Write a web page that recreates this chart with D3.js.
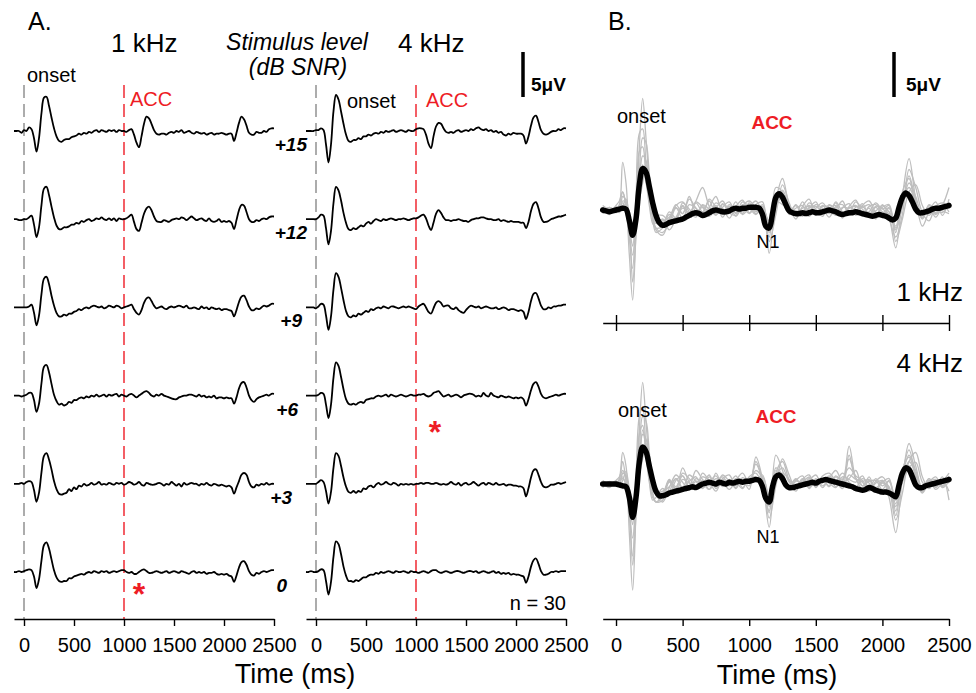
<!DOCTYPE html>
<html>
<head>
<script src="https://d3js.org/d3.v7.min.js"></script>
<style>
  body { margin: 0; background: #fff; }
  svg text { font-family: "Liberation Sans", Arial, sans-serif; }
</style>
</head>
<body>
<script>
// sampling grids (ms)
var tA = d3.range(-100, 2501, 25);
var tGray = [-100, -50].concat(d3.range(0, 301, 25), d3.range(350, 2501, 50));

var levels = ["+15", "+12", "+9", "+6", "+3", "0"];
var tickVals = [0, 500, 1000, 1500, 2000, 2500];

// Panel A, 1 kHz, grand averages (uV) per SNR
var a1k15 = [0,0,0,-0.2,0.1,0,0.4,0.2,-0.8,-2.3,-0.8,2.0,3.7,3.8,2.8,1.5,0.3,-0.6,-1.1,-1.2,-1.0,
  -0.9,-0.9,-0.7,-0.6,-0.5,-0.3,-0.4,-0.2,-0.3,-0.1,-0.2,0,0.1,-0.1,0.1,0,-0.1,0.1,0,0.1,-0.1,0.1,0,0,
  -0.1,0.1,0.2,-0.4,-1.3,-1.8,-0.6,0.8,1.6,1.4,0.8,0.1,-0.3,-0.4,-0.3,-0.3,-0.4,-0.2,-0.1,-0.2,
  0,-0.1,0.1,-0.2,-0.1,0,-0.2,-0.3,-0.1,-0.2,-0.3,-0.2,-0.4,-0.3,-0.2,-0.4,-0.3,-0.3,-0.2,-0.3,
  -0.4,-0.3,-0.3,-1.1,-0.2,0.9,1.6,1.3,0.6,-0.2,-0.4,-0.4,-0.1,-0.2,-0.2,0,-0.1,0.2,0.3,0.3];
var a1k12 = [0,0,-0.1,-0.1,0,0,0.2,0.4,-0.6,-2.0,-0.9,1.6,3.4,3.6,2.7,1.4,0.2,-0.7,-1.1,-1.1,-0.9,
  -0.9,-0.8,-0.6,-0.6,-0.4,-0.5,-0.2,-0.3,-0.1,0,-0.2,-0.1,0.1,0,0.2,0,-0.1,0.1,-0.1,0.1,-0.2,0.1,0,0,
  0.1,0.3,0.5,-0.3,-1.1,-1.3,-0.4,0.6,1.2,1.4,1.0,0.3,-0.2,-0.3,-0.3,-0.1,-0.2,-0.3,-0.1,0,
  0.1,0,0.2,0.1,-0.1,0.1,0.3,0.1,-0.1,0,0.1,-0.1,-0.2,0.1,-0.2,-0.3,-0.2,0,-0.3,-0.2,
  -0.3,-0.2,-0.4,-1.1,-0.1,1.0,1.6,1.5,0.8,0,-0.3,-0.3,-0.1,-0.2,0,0.1,0,0.2,0.3,0.3];
var a1k9 = [0,0,0,0,0,0,0.1,0.3,-0.6,-2.0,-0.9,1.5,3.2,3.4,2.6,1.3,0.2,-0.6,-1.0,-1.0,-0.8,
  -0.9,-0.7,-0.7,-0.5,-0.4,-0.2,-0.3,-0.1,0,-0.1,0.1,0.2,0.1,0,0.1,-0.1,0,0.2,0.1,0,0.2,0.1,-0.1,0,
  0.1,0.2,0.3,-0.2,-0.6,-0.8,-0.3,0.5,1.0,1.1,0.7,0.2,-0.1,0,0.1,-0.1,-0.2,0,0.1,0,
  0.1,0.2,0.1,0,0.2,-0.1,-0.1,0,-0.1,-0.2,0.1,-0.1,0,-0.2,0,-0.1,-0.2,-0.1,-0.3,-0.2,
  -0.2,-0.3,-0.4,-1.0,-0.3,0.6,1.2,1.3,0.8,0.1,-0.3,-0.3,-0.1,-0.2,0,0.2,0.1,0.2,0.4,0.4];
var a1k6 = [0,0,0,-0.1,0,0.1,0.3,0.3,-0.5,-1.8,-0.9,1.4,3.2,3.4,2.6,1.3,0.1,-0.6,-1.0,-0.9,-1.1,
  -1.0,-0.7,-0.8,-0.5,-0.5,-0.3,-0.2,-0.3,-0.1,-0.2,0,-0.1,0.1,-0.1,0,0.1,-0.1,0.1,0,0.1,0.2,-0.1,0.1,0,
  -0.1,0.1,0.2,0,-0.2,0,0.2,0.4,0.5,0.3,0,-0.1,0.1,0,0.2,0,-0.1,-0.2,-0.3,-0.4,
  -0.4,-0.2,-0.1,0,0,0.1,0.1,0,-0.1,0.1,-0.1,0,-0.2,-0.1,-0.2,0,-0.3,-0.2,-0.2,-0.3,
  -0.2,-0.3,-0.3,-0.9,-0.2,0.8,1.4,1.5,0.9,0,-0.5,-0.7,-0.4,-0.2,-0.1,0,0.1,0,0.2,0.2];
var a1k3 = [0,0,0,0.1,0,0.2,0.3,0.2,-0.7,-2.0,-1.0,1.3,3.1,3.4,2.7,1.6,0.3,-0.6,-1.1,-1.2,-1.1,
  -1.0,-0.6,-0.8,-0.4,-0.6,-0.2,-0.3,0,-0.2,-0.1,0.1,-0.1,0,0.2,-0.1,0,-0.1,0.1,0,-0.1,0.1,0,0.1,-0.1,
  0,0.2,0.1,-0.1,0,0.2,-0.1,-0.2,0.1,0,-0.1,-0.1,0,0.1,0,-0.2,0,-0.1,0.2,0,
  -0.2,0,-0.3,0.1,-0.1,0,0.1,0,0,-0.2,0,-0.1,0.1,-0.1,-0.2,0,-0.1,-0.2,-0.1,-0.2,
  -0.3,-0.2,-0.4,-1.1,-0.4,0.3,1.0,1.2,1.0,0.2,-0.3,-0.4,-0.1,-0.2,0,-0.1,0.1,-0.1,0,0];
var a1k0 = [0,0,0.1,0,0.1,0.2,0.3,0.2,-0.5,-1.8,-0.8,1.3,3.0,3.3,2.6,1.4,0.2,-0.6,-1.0,-1.1,-1.0,
  -1.0,-0.7,-0.7,-0.5,-0.4,-0.3,-0.2,-0.3,-0.1,0,-0.1,0.1,0,-0.1,0.1,0,0.1,-0.1,0,0.1,0,0.1,0.2,0.2,
  0,-0.1,0,-0.2,-0.2,0,0.2,0.3,0.1,-0.1,-0.1,0,0.1,0,-0.1,0,0.1,-0.1,0,0.1,
  0,-0.1,0.1,0,-0.1,-0.2,0,0.1,-0.1,0,-0.1,0,-0.2,-0.1,-0.1,0,-0.2,-0.3,-0.2,-0.3,
  -0.2,-0.4,-0.5,-1.1,-0.4,0.5,1.1,1.2,0.8,0.1,-0.3,-0.4,-0.1,-0.2,0,0.1,0,0.1,0.2,0.2];

// Panel A, 4 kHz
var a4k15 = [0,0,0,0,0.1,0.1,0.3,0.1,-1.5,-3.5,-1.5,2.2,4.0,3.5,2.2,0.8,-0.4,-1.1,-1.2,-1.0,-1.0,
  -0.8,-0.9,-0.6,-0.6,-0.4,-0.5,-0.3,-0.2,-0.3,-0.1,-0.2,0,-0.1,0,0.1,-0.1,0,0.1,0,-0.1,0.1,0,0,0.2,
  0.3,0.3,0.2,-0.4,-1.4,-1.9,-0.6,0.5,0.9,0.8,0.3,-0.1,-0.2,-0.1,-0.2,0,0.1,-0.1,0,0.1,
  0,0.2,0.1,0.3,0.4,0.2,0.1,0.2,0,0.1,-0.1,0,-0.2,-0.1,-0.4,-0.5,-0.3,-0.4,-0.2,-0.3,
  -0.3,-0.3,-0.5,-1.4,-0.6,0.6,1.5,1.7,1.0,0.1,-0.3,-0.4,-0.3,-0.1,0,0,0.2,0.1,0.3,0.3];
var a4k12 = [0,0,0,0,0,0.2,0.5,0.4,-1.0,-2.8,-1.3,1.8,3.6,3.2,2.1,0.7,-0.4,-1.1,-1.2,-1.0,-1.1,
  -0.9,-0.7,-0.8,-0.5,-0.3,-0.5,-0.2,0,-0.1,-0.2,0,-0.1,0,0.1,0,-0.1,0,0,0.1,0,-0.1,0,0.1,0.1,
  0.2,0.4,0.5,0.1,-0.7,-1.2,-0.4,0.6,1.0,0.7,0.2,-0.1,-0.1,-0.2,-0.1,-0.1,0,-0.1,-0.2,-0.2,
  -0.3,-0.1,0,0.1,0.1,0.2,0.2,0.1,0,0,-0.1,-0.1,0,-0.2,-0.1,-0.2,-0.3,-0.2,-0.3,-0.3,
  -0.3,-0.4,-0.4,-1.0,-0.3,0.9,1.7,1.9,1.2,0.2,-0.3,-0.3,-0.2,0,0.1,0.2,0.3,0.3,0.4,0.5];
var a4k9 = [0,0,0,0,-0.1,0.1,0.4,0.3,-0.9,-2.5,-1.0,2.0,3.8,3.4,2.2,0.8,-0.4,-1.0,-1.1,-0.9,-1.0,
  -0.7,-0.8,-0.6,-0.4,-0.5,-0.2,-0.3,-0.1,0,-0.1,0.1,0,-0.1,0.1,0.1,0,-0.1,0,0.1,0,0.1,0,-0.1,-0.2,
  0.1,0.3,0.4,0,-0.5,-0.7,-0.1,0.5,0.7,0.5,0.1,0.2,0.2,-0.1,-0.2,0,-0.3,-0.5,-0.6,-0.3,
  0,0.2,0.1,0,0.1,-0.1,0,0.1,0,-0.1,-0.1,0,-0.2,-0.1,0,-0.1,-0.3,-0.2,-0.2,-0.3,
  -0.4,-0.3,-0.5,-1.3,-0.5,0.7,1.5,1.6,1.0,0.2,-0.2,-0.2,0,-0.1,0.1,0.1,0.2,0.2,0.3,0.3];
var a4k6 = [0,0,0,0,0,0.1,0.3,0.2,-1.0,-2.5,-1.0,2.0,3.7,3.3,2.1,0.7,-0.4,-0.9,-1.0,-0.9,-1.0,
  -0.8,-0.7,-0.8,-0.5,-0.4,-0.3,-0.3,-0.1,0,-0.1,0,0.1,-0.1,0.1,0,-0.1,0,0.1,0,-0.1,0,0.1,0,0,
  0.1,0.1,0.2,0,-0.1,0,0.3,0.4,0.5,0.2,-0.1,0,0.1,-0.1,0,0.1,0,-0.2,0,0.1,
  0.2,0.2,0.1,-0.1,0,-0.1,0.3,0,-0.1,0.3,0,-0.1,-0.2,0,-0.1,-0.2,-0.1,-0.2,-0.3,-0.2,
  -0.3,-0.2,-0.4,-1.1,-0.4,0.6,1.3,1.5,1.0,0.2,-0.2,-0.3,-0.2,-0.1,0,0.1,0,0.1,0.2,0.2];
var a4k3 = [0,0,0,0,0,0.2,0.4,0.2,-0.8,-2.2,-0.9,1.8,3.4,3.1,2.0,0.7,-0.3,-0.9,-1.0,-0.8,-1.0,
  -0.8,-0.9,-0.5,-0.6,-0.3,-0.2,-0.4,-0.1,0.1,-0.1,0,0.2,0,-0.1,0.1,0,-0.2,0,-0.1,0,-0.1,0,-0.1,0,
  0,0.1,0,0.1,0.1,0,0,0.1,0,-0.1,0,-0.1,0,0.2,0,-0.1,0.1,-0.2,0,0.1,
  -0.1,0,0.2,0,-0.2,0,0.1,-0.1,0.1,0,-0.1,0.1,-0.1,-0.1,0,-0.2,-0.1,-0.1,-0.2,-0.2,
  -0.3,-0.3,-0.5,-1.4,-0.5,0.7,1.5,1.6,1.0,0.2,-0.3,-0.4,-0.3,-0.1,-0.1,0,0.1,0,0.1,0.2];
var a4k0 = [0,0,0.1,0,0,0.1,0.3,0.2,-1.0,-2.5,-1.1,1.7,3.4,3.1,2.0,0.6,-0.4,-1.0,-1.0,-1.1,-0.9,
  -1.0,-0.8,-0.6,-0.6,-0.4,-0.3,-0.3,-0.1,-0.2,0,-0.1,0,0.1,0,-0.1,0.1,0,0,0.1,0,-0.1,0.1,0,0,
  -0.1,0,0.1,0,-0.1,0.1,0.2,0.2,0,-0.1,0,0.1,0,-0.1,0,0.1,0.1,0,-0.1,0,
  0.1,0.1,0,0.1,-0.1,0,0.1,0,-0.1,0,0.1,-0.1,0,-0.2,-0.1,-0.2,-0.1,-0.3,-0.2,-0.3,
  -0.3,-0.4,-0.5,-1.2,-0.5,0.6,1.3,1.5,0.9,0.1,-0.3,-0.3,-0.2,0,0,0.1,0,0.1,0.1,0.1];

// Panel B grand means
var b1kMean = [0,-0.1,-0.2,-0.1,0,0.1,0.2,0.1,-1.2,-2.8,-1.0,2.8,4.6,4.2,2.6,0.8,-0.6,-1.4,-1.7,-1.6,-1.4,
  -1.3,-1.2,-1.1,-1.0,-0.8,-0.6,-0.4,-0.3,-0.4,-0.6,-0.5,-0.3,-0.1,0,-0.1,-0.2,-0.2,-0.1,0.1,0.2,0.1,0.2,0.2,0.3,
  0.3,0.3,0.2,-0.5,-1.8,-2.0,-0.4,1.4,1.8,1.4,0.6,-0.1,-0.3,-0.4,-0.4,-0.3,-0.4,-0.3,-0.2,-0.3,
  -0.3,-0.2,-0.1,0,-0.1,-0.2,-0.4,-0.5,-0.4,-0.3,-0.3,-0.2,-0.3,-0.4,-0.5,-0.6,-0.7,-0.6,-0.5,-0.6,
  -0.7,-0.9,-1.1,-0.9,0.3,1.4,1.9,1.6,0.9,0.1,-0.3,-0.3,-0.2,-0.1,0.1,0.2,0.2,0.3,0.4,0.5];
var b4kMean = [0,0,0,0,0,-0.1,-0.2,-0.3,-1.5,-3.7,-1.5,2.4,4.1,3.6,2.0,0.4,-0.8,-1.3,-1.3,-1.2,-1.0,
  -0.9,-0.8,-0.7,-0.6,-0.5,-0.4,-0.3,-0.4,-0.2,0,0.1,0.2,0.1,0,0.2,0.1,0,0.2,0.1,0.2,0.3,0.2,0.3,0.3,
  0.4,0.5,0.4,-0.3,-1.6,-2.0,-0.3,0.8,1.0,0.6,-0.1,-0.4,-0.4,-0.3,-0.2,-0.1,0,0.1,0.2,0.1,
  0.3,0.4,0.5,0.4,0.3,0.2,0.1,0,-0.1,-0.2,-0.3,-0.5,-0.6,-0.7,-0.6,-0.4,-0.5,-0.7,-0.8,-0.9,
  -0.9,-1.0,-1.2,-1.4,-0.1,1.2,1.8,1.6,0.8,-0.1,-0.4,-0.4,-0.2,-0.1,0,0.1,0.2,0.3,0.4,0.5];

// Panel B individual listeners, 1 kHz (sampled on tGray)
var g1k_1 = [0.3,-0.4, 0.5,1.0,2.0,0.5,-5.0,-10.0,-2.0,7.0,12.4,8.0,3.0,-0.5,-2.0,
  -2.5,-1.5,-0.8,0.5,-0.6,0.8,-0.2,1.0,-0.5,0.3,0.9,-0.4,0.6,0.2,
  -0.5,0.4,-4.8,1.0,3.5,0.5,-1.0,0.4,1.2,-0.6, 0.5,-0.3,0.8,-0.9,0.4,1.1,-0.4,0.2,-1.0,0.6,
  -0.8,-4.2,1.5,5.7,1.2,-1.8,-0.2,0.9,-0.6,1.2];
var g1k_2 = [-0.2,0.3, 0,0.5,5.3,3.0,-3.0,-6.5,1.0,8.5,9.0,5.0,1.5,-1.0,-2.5,
  -2.0,-1.0,0.6,-0.4,1.2,0.2,-0.8,0.3,1.5,-0.2,0.4,-0.7,0.5,1.0,
  0.2,-0.6,-3.0,2.5,2.0,-0.5,0.6,-0.4,0.8,0.1, -0.7,0.5,0.2,1.0,-0.5,-0.2,0.7,-0.6,0.3,-0.4,
  0.3,-2.5,2.0,3.5,0.5,-0.8,0.5,-0.3,0.6,-0.2];
var g1k_3 = [0.5,0.1, 0.2,-0.3,1.0,0.8,-2.5,-5.0,-1.5,4.0,8.0,7.5,4.0,1.0,-1.5,
  -1.0,-2.2,-1.0,0.2,-0.3,1.0,2.5,0.4,-0.6,0.7,-0.2,0.9,-0.5,0.3,
  1.0,-0.3,-2.0,0.5,1.5,0.3,-0.5,0.9,-0.2,0.6, 0.2,-0.8,0.4,0.6,-0.3,0.9,0.1,-0.5,0.4,0.2,
  -1.0,-3.0,-0.5,4.5,2.5,-0.3,-1.2,0.4,0.8,0.3];
var g1k_4 = [-0.3,0.2, -0.3,0.2,0.5,-0.5,-2.0,-4.0,0.5,6.5,7.0,3.5,0.5,-1.5,-2.0,
  -1.8,-0.5,-1.2,0.8,0.1,-0.6,0.5,-0.3,0.8,0.2,-0.9,0.4,1.1,-0.3,
  0.6,0.9,-3.5,-0.5,2.8,0.8,-0.7,-0.2,0.5,-0.5, 0.4,0.3,-0.6,0.2,0.7,-0.6,0.5,1.0,-0.3,-0.8,
  0.2,-1.8,1.2,2.5,0.8,-0.6,0.3,-0.5,0.4,0.7];
var g1k_5 = [0.1,-0.5, 0.4,0,1.5,1.0,-1.5,-3.0,-1.0,3.0,6.0,5.5,2.5,0,-1.0,
  -1.2,-0.8,0.3,-1.0,0.6,0.2,-0.4,1.2,0.3,-0.5,0.6,0.1,-0.4,0.8,
  -0.2,0.4,-1.5,1.5,1.2,-0.2,0.5,-0.6,0.2,0.9, -0.5,0.6,0.1,-0.4,0.3,-0.1,-0.7,0.4,0.6,-0.2,
  -0.4,-2.0,0.5,3.0,1.5,-0.5,0.2,-0.8,0.3,0.5];
var g1k_6 = [-0.1,0.2, -0.2,0.3,0.8,0.2,-1.0,-2.5,-0.5,2.0,4.5,4.0,2.0,0.2,-1.2,
  -1.5,-0.2,-0.9,0.4,-0.5,0.9,0.3,-0.7,0.2,1.0,-0.3,-0.6,0.2,-0.4,
  0.3,-0.4,-2.5,0.2,1.8,-0.3,0.2,0.5,-0.7,0.2, 0.8,-0.2,-0.5,0.3,0.2,0.5,-0.3,-0.2,0.8,0.1,
  0.5,-3.5,-1.0,2.0,2.8,0.5,-0.6,0.2,-0.1,-0.4];
var g1k_7 = [0.2,0, 0.1,-0.2,0.4,1.2,-0.5,-1.5,-1.0,1.0,3.0,5.0,3.5,1.0,-0.5,
  -0.6,-1.2,0.2,-0.4,1.5,-0.2,0.3,-0.2,0.5,-0.8,0.4,0.2,-0.2,0.5,
  -0.4,0.1,-1.2,1.0,0.6,0.2,-0.3,0.2,0.4,-0.3, 0.1,-0.4,0.9,-0.2,-0.6,0.3,0.4,-0.4,-0.1,0.5,
  -0.2,-1.2,0.8,1.8,0.6,-0.9,0.6,0.1,-0.3,0.9];
var g1k_8 = [-0.4,0.3, 0,0.6,2.0,0.5,-1.8,-8.0,-3.0,2.5,5.0,3.0,1.2,-0.8,-2.2,
  -2.8,-1.0,0.5,0.9,-0.2,-0.8,0.6,0.1,-0.4,0.6,0.2,-0.3,0.9,0.4,
  -0.1,0.6,-2.2,0.8,2.2,0.4,-0.2,-0.7,0.3,0.4, -0.2,0.2,0.5,-0.7,0.2,0.4,0.3,0.6,-0.5,0.3,
  0.6,-2.2,0.4,3.8,1.0,-1.0,0.3,-0.4,0.5,2.5];

// Panel B individual listeners, 4 kHz
var g4k_1 = [0.2,-0.3, 0.4,0.8,1.5,0.5,-5.5,-11.8,-3.0,6.0,11.3,7.0,2.0,-1.0,-2.0,
  -1.5,-0.8,0.6,-0.4,1.0,0.3,-0.5,0.8,-0.3,0.6,1.0,-0.2,0.4,-0.6,
  3.0,0.5,-4.8,1.2,2.5,0.4,-0.8,0.5,1.0,-0.4, 0.6,-0.2,0.9,0.4,4.2,0.6,-0.5,0.8,-0.7,0.4,
  -1.5,-5.4,0.5,4.5,2.0,-0.5,0.6,-0.3,0.8,-1.8];
var g4k_2 = [-0.2,0.1, 0,0.6,3.5,2.0,-3.5,-8.0,0.5,7.5,8.5,4.0,0.5,-1.5,-2.0,
  -1.2,0.5,-0.6,1.8,0.2,-0.5,1.2,0.3,-0.8,0.5,0.2,0.9,-0.4,0.6,
  0.8,-0.3,-3.2,3.2,1.5,-0.6,0.4,0.9,-0.5,0.6, -0.4,0.6,1.5,0.3,2.8,0.7,-0.2,0.4,-0.6,0.2,
  0.6,-3.0,1.2,3.8,1.0,-0.8,0.2,0.8,-0.4,0.3];
var g4k_3 = [0.4,0, 0.3,-0.2,1.2,1.0,-2.8,-6.0,-2.0,3.5,7.5,7.0,3.5,0.5,-1.2,
  -2.0,-0.4,1.0,0.2,-0.7,0.6,0.1,-0.6,1.2,-0.2,0.5,-0.5,0.7,0.3,
  1.5,0.6,-2.5,0.8,1.8,0.2,-0.4,0.3,0.7,-0.2, 0.9,1.2,0.3,-0.5,1.0,0.5,0.2,-0.8,0.3,0.8,
  -0.5,-4.0,-1.0,2.5,3.5,0.8,-0.5,0.4,-0.2,0.9];
var g4k_4 = [-0.3,0.3, -0.2,0.4,0.8,-0.3,-2.0,-4.5,0.2,5.5,6.5,3.0,0.2,-1.8,-1.5,
  -0.5,-1.2,0.4,0.9,-0.3,1.5,0.5,-0.2,0.6,0.2,-0.6,0.4,1.2,0.1,
  2.2,0.3,-3.8,-0.2,2.8,1.0,-0.5,0.2,-0.3,0.5, 0.2,0.8,-0.3,0.5,1.8,0.9,0.4,-0.5,0.6,-0.2,
  0.3,-2.2,1.6,3.0,0.8,-0.9,0.4,-0.6,0.2,1.2];
var g4k_5 = [0.1,-0.4, 0.3,0,1.2,0.8,-1.5,-3.5,-1.0,2.5,5.5,5.0,2.5,0.2,-0.8,
  -1.0,0.2,-0.8,0.5,0.1,-0.3,0.8,0.4,-0.2,1.0,0.3,-0.4,0.5,0.2,
  0.5,1.0,-1.8,1.5,0.8,-0.2,0.6,-0.3,0.4,1.0, -0.2,0.5,0.3,1.2,0.2,-0.4,0.6,0.1,-0.8,0.3,
  -0.6,-2.5,0.4,2.5,1.2,-0.4,0.6,-0.2,0.5,0.1];
var g4k_6 = [-0.1,0.2, -0.2,0.3,0.6,0.1,-1.0,-2.8,-0.8,1.8,4.0,3.5,1.5,0,-1.0,
  -0.8,-0.3,0.6,-0.5,0.3,0.8,-0.4,0.2,0.9,-0.3,0.4,0.2,-0.5,0.8,
  1.2,-0.2,-2.0,0.4,1.2,0.5,-0.3,0.6,-0.4,0.3, 0.5,-0.3,0.8,0.2,0.6,1.5,-0.2,0.3,0.4,-0.6,
  0.4,-1.5,0.2,1.8,2.4,0.2,-0.5,0.3,-0.3,0.6];
var g4k_7 = [0.2,0, 0.1,-0.3,0.4,1.4,-0.5,-2.0,-1.2,1.0,2.8,4.5,3.0,0.8,-0.6,
  -1.2,0.4,-0.3,0.9,-0.4,0.3,0.1,1.0,-0.5,0.4,-0.2,0.6,0.2,0.4,
  0.3,0.8,-1.2,0.6,0.9,-0.4,0.3,0.2,0.8,-0.3, 0.6,0.1,-0.4,0.8,0.5,0.2,0.9,-0.5,0.1,0.4,
  -0.8,-1.8,0.6,2.0,0.4,-1.0,0.2,0.5,-0.2,0.7];
var g4k_8 = [-0.4,0.2, 0,0.5,2.5,0.3,-2.5,-9.0,-3.5,2.0,6.0,4.0,1.0,-1.0,-2.0,
  -1.8,0.3,-0.5,1.2,0.6,-0.2,0.4,-0.6,0.3,0.8,-0.1,0.5,0.3,-0.2,
  2.5,0.4,-3.0,1.8,1.0,-0.3,0.5,-0.2,0.6,0.2, 0.3,0.9,0.2,-0.3,3.2,0.6,0.3,0.5,-0.4,0.1,
  -0.3,-3.5,0.8,3.2,1.5,-0.6,0.3,-0.4,0.4,-0.8];

var colA = [[a1k15, a1k12, a1k9, a1k6, a1k3, a1k0], [a4k15, a4k12, a4k9, a4k6, a4k3, a4k0]];
var grayB = [[g1k_1, g1k_2, g1k_3, g1k_4, g1k_5, g1k_6, g1k_7, g1k_8],
             [g4k_1, g4k_2, g4k_3, g4k_4, g4k_5, g4k_6, g4k_7, g4k_8]];
var meanB = [b1kMean, b4kMean];

var width = 976, height = 693;
var red = "#ee1c25";
var axisY = 619;

var svg = d3.select("body").append("svg")
    .attr("width", width)
    .attr("height", height);

// 9 px per microvolt
var yAmp = d3.scaleLinear().domain([-1, 1]).range([9, -9]);
var rowY = d3.scalePoint().domain(levels).range([131, 572]);

function txt(x, y, s, size, opts) {
    opts = opts || {};
    return svg.append("text")
        .attr("x", x).attr("y", y)
        .attr("font-size", size)
        .attr("text-anchor", opts.anchor || "start")
        .attr("font-weight", opts.bold ? "bold" : "normal")
        .attr("font-style", opts.italic ? "italic" : "normal")
        .attr("fill", opts.color || "#000")
        .text(s);
}

function bottomAxis(x, y) {
    var ax = d3.axisBottom(x).tickValues(tickVals).tickSize(7).tickSizeOuter(0)
        .tickPadding(12).tickFormat(d3.format("d"));
    var g = svg.append("g").attr("transform", "translate(0," + y + ")").call(ax);
    g.select(".domain").attr("stroke-width", 1.4);
    g.selectAll(".tick line").attr("stroke-width", 1.4);
    g.selectAll(".tick text")
        .attr("font-size", 20)
        .attr("font-family", '"Liberation Sans", Arial, sans-serif')
        .attr("fill", "#000");
    return g;
}

// ---------------- Panel A ----------------
var xA = [
    d3.scaleLinear().domain([-100, 2500]).range([14, 274]),
    d3.scaleLinear().domain([-100, 2500]).range([306, 566])
];
var labelEnd = [307, 307, 302, 298, 292, 287];

colA.forEach(function(col, c) {
    var x = xA[c];
    var g = svg.append("g");

    g.append("line")
        .attr("x1", x(0)).attr("x2", x(0))
        .attr("y1", 85).attr("y2", axisY)
        .attr("stroke", "#808080").attr("stroke-width", 1.3)
        .attr("stroke-dasharray", "13,6");
    g.append("line")
        .attr("x1", x(1000)).attr("x2", x(1000))
        .attr("y1", 85).attr("y2", axisY)
        .attr("stroke", red).attr("stroke-width", 1.4)
        .attr("stroke-dasharray", "13,6");

    col.forEach(function(vals, r) {
        var base = rowY(levels[r]);
        var line = d3.line()
            .x(function(d, i) { return x(tA[i]); })
            .y(function(d) { return base + yAmp(d); })
            .curve(d3.curveCatmullRom);
        g.append("path")
            .attr("d", line(vals))
            .attr("fill", "none")
            .attr("stroke", "#000")
            .attr("stroke-width", 1.8)
            .attr("stroke-linejoin", "round");
    });

    bottomAxis(x, axisY);
});

// SNR labels
levels.forEach(function(l, r) {
    txt(labelEnd[r], rowY(l) + 20, l, 19, {anchor: "end", bold: true, italic: true});
});

txt(28, 30, "A.", 25);
txt(111, 52, "1 kHz", 26);
txt(398, 52, "4 kHz", 26);
txt(297, 50, "Stimulus level", 23, {anchor: "middle", italic: true});
txt(298, 75, "(dB SNR)", 23, {anchor: "middle", italic: true});
txt(27, 82, "onset", 20);
txt(130, 106, "ACC", 20, {color: red});
txt(347, 108, "onset", 20);
txt(426, 107, "ACC", 20, {color: red});
txt(566, 610, "n = 30", 20, {anchor: "end"});
txt(139, 605, "*", 32, {anchor: "middle", bold: true, color: red});
txt(435, 443, "*", 32, {anchor: "middle", bold: true, color: red});
txt(295, 683, "Time (ms)", 27, {anchor: "middle"});

// 5 uV scale bar, panel A
svg.append("line")
    .attr("x1", 523).attr("x2", 523)
    .attr("y1", 97).attr("y2", 97 + yAmp(5))
    .attr("stroke", "#000").attr("stroke-width", 3.5);
txt(531, 91, "5\u03bcV", 19, {bold: true});

// ---------------- Panel B ----------------
var xB = d3.scaleLinear().domain([-100, 2500]).range([602.7, 949]);
var baseB = [210, 484];

meanB.forEach(function(mean, p) {
    var base = baseB[p];
    var g = svg.append("g");
    var grayLine = d3.line()
        .x(function(d, i) { return xB(tGray[i]); })
        .y(function(d) { return base + yAmp(d); })
        .curve(d3.curveCatmullRom);
    grayB[p].forEach(function(vals) {
        g.append("path")
            .attr("d", grayLine(vals))
            .attr("fill", "none")
            .attr("stroke", "#bebebe")
            .attr("stroke-width", 1.3);
    });
    var meanLine = d3.line()
        .x(function(d, i) { return xB(tA[i]); })
        .y(function(d) { return base + yAmp(d); })
        .curve(d3.curveCatmullRom);
    g.append("path")
        .attr("d", meanLine(mean))
        .attr("fill", "none")
        .attr("stroke", "#000")
        .attr("stroke-width", 5.5)
        .attr("stroke-linejoin", "round")
        .attr("stroke-linecap", "round");
});

// middle axis (no labels, ticks crossing)
var mid = svg.append("g").attr("transform", "translate(0,315)")
    .call(d3.axisBottom(xB).tickValues(tickVals).tickSize(16).tickSizeOuter(0).tickFormat(""));
mid.select(".domain").attr("transform", "translate(0,8)").attr("stroke-width", 1.4);
mid.selectAll(".tick line").attr("stroke-width", 1.4);

bottomAxis(xB, axisY);

txt(608, 30, "B.", 25);
svg.append("line")
    .attr("x1", 894).attr("x2", 894)
    .attr("y1", 97).attr("y2", 97 + yAmp(5))
    .attr("stroke", "#000").attr("stroke-width", 3.5);
txt(906, 91, "5\u03bcV", 19, {bold: true});

txt(617, 123, "onset", 20);
txt(772, 129, "ACC", 19, {anchor: "middle", bold: true, color: red});
txt(768, 248, "N1", 18, {anchor: "middle"});
txt(963, 301, "1 kHz", 26, {anchor: "end"});
txt(963, 372, "4 kHz", 26, {anchor: "end"});
txt(618, 417, "onset", 20);
txt(776, 423, "ACC", 19, {anchor: "middle", bold: true, color: red});
txt(768, 543, "N1", 18, {anchor: "middle"});
txt(777, 684, "Time (ms)", 27, {anchor: "middle"});
</script>
</body>
</html>
